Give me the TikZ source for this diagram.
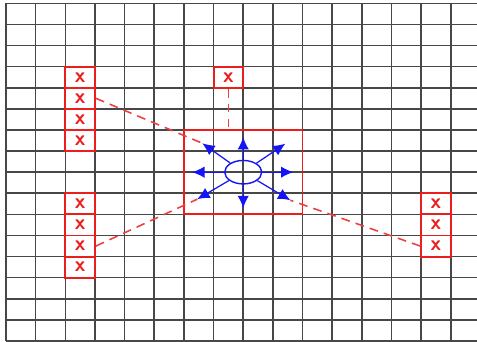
\documentclass[tikz,border=0pt]{standalone}
\usetikzlibrary{arrows.meta,shapes.geometric}
\definecolor{markred}{RGB}{235,30,30}
\definecolor{flowblue}{RGB}{20,20,245}
\begin{document}
\begin{tikzpicture}[
        x=0.593cm, y=0.422cm,
        gridline/.style={draw=black!72, line width=0.9pt},
        xcell/.style={rectangle, draw=markred, line width=1.1pt, minimum width=0.593cm, minimum height=0.422cm, inner sep=0pt, text=markred, font=\sffamily\bfseries\large},
        zone/.style={rectangle, draw=markred, line width=1.1pt, minimum width=4*0.593cm, minimum height=4*0.422cm, inner sep=0pt},
        link/.style={draw=markred!85, line width=0.9pt, dash pattern=on 5pt off 3.5pt},
        source/.style={ellipse, draw=flowblue, line width=0.8pt, minimum width=0.74cm, minimum height=0.47cm, inner sep=0pt},
        spread/.style={draw=flowblue, line width=0.7pt, -{Latex[length=7pt,width=6.5pt]}},
    ]
    \useasboundingbox (-0.202,-0.047) rectangle (15.885,16.16);

    % ===== Grid =====
    \foreach \i in {0,...,15} \draw[gridline] (\i,0) -- (\i,16);
    \foreach \j in {0,...,16} \draw[gridline] (0,\j) -- (15.885,\j);

    % ===== Marked cells =====
    \foreach \y in {9,...,12} \node[xcell] (a\y) at (2.5,\y+0.5) {x};
    \foreach \y in {3,...,6} \node[xcell] (b\y) at (2.5,\y+0.5) {x};
    \foreach \y in {4,...,6} \node[xcell] (c\y) at (14.5,\y+0.5) {x};
    \node[xcell] (top) at (7.5,12.5) {x};

    % ===== Central zone =====
    \node[zone] (area) at (8,8) {};
    \node[source] (src) at (8,8) {};

    % arrow tips
    \coordinate (tN) at (8,9.66);
    \coordinate (tS) at (8,6.3);
    \coordinate (tW) at (6.28,8);
    \coordinate (tE) at (9.69,8);
    \coordinate (tNE) at (9.42,9.35);
    \coordinate (tSE) at (9.59,6.67);
    \coordinate (tNW) at (6.62,9.37);
    \coordinate (tSW) at (6.45,6.72);

    \foreach \t in {tN,tS,tW,tE,tNE,tSE,tNW,tSW} \draw[spread] (src) -- (\t);

    % ===== Links =====
    \draw[link] (top.south) -- (top.south |- area.north);
    \draw[link] (a11.east) -- (tNW);
    \draw[link] (b4.east) -- (tSW);
    \draw[link] (c4.west) -- (tSE);

    \end{tikzpicture}
\end{document}
